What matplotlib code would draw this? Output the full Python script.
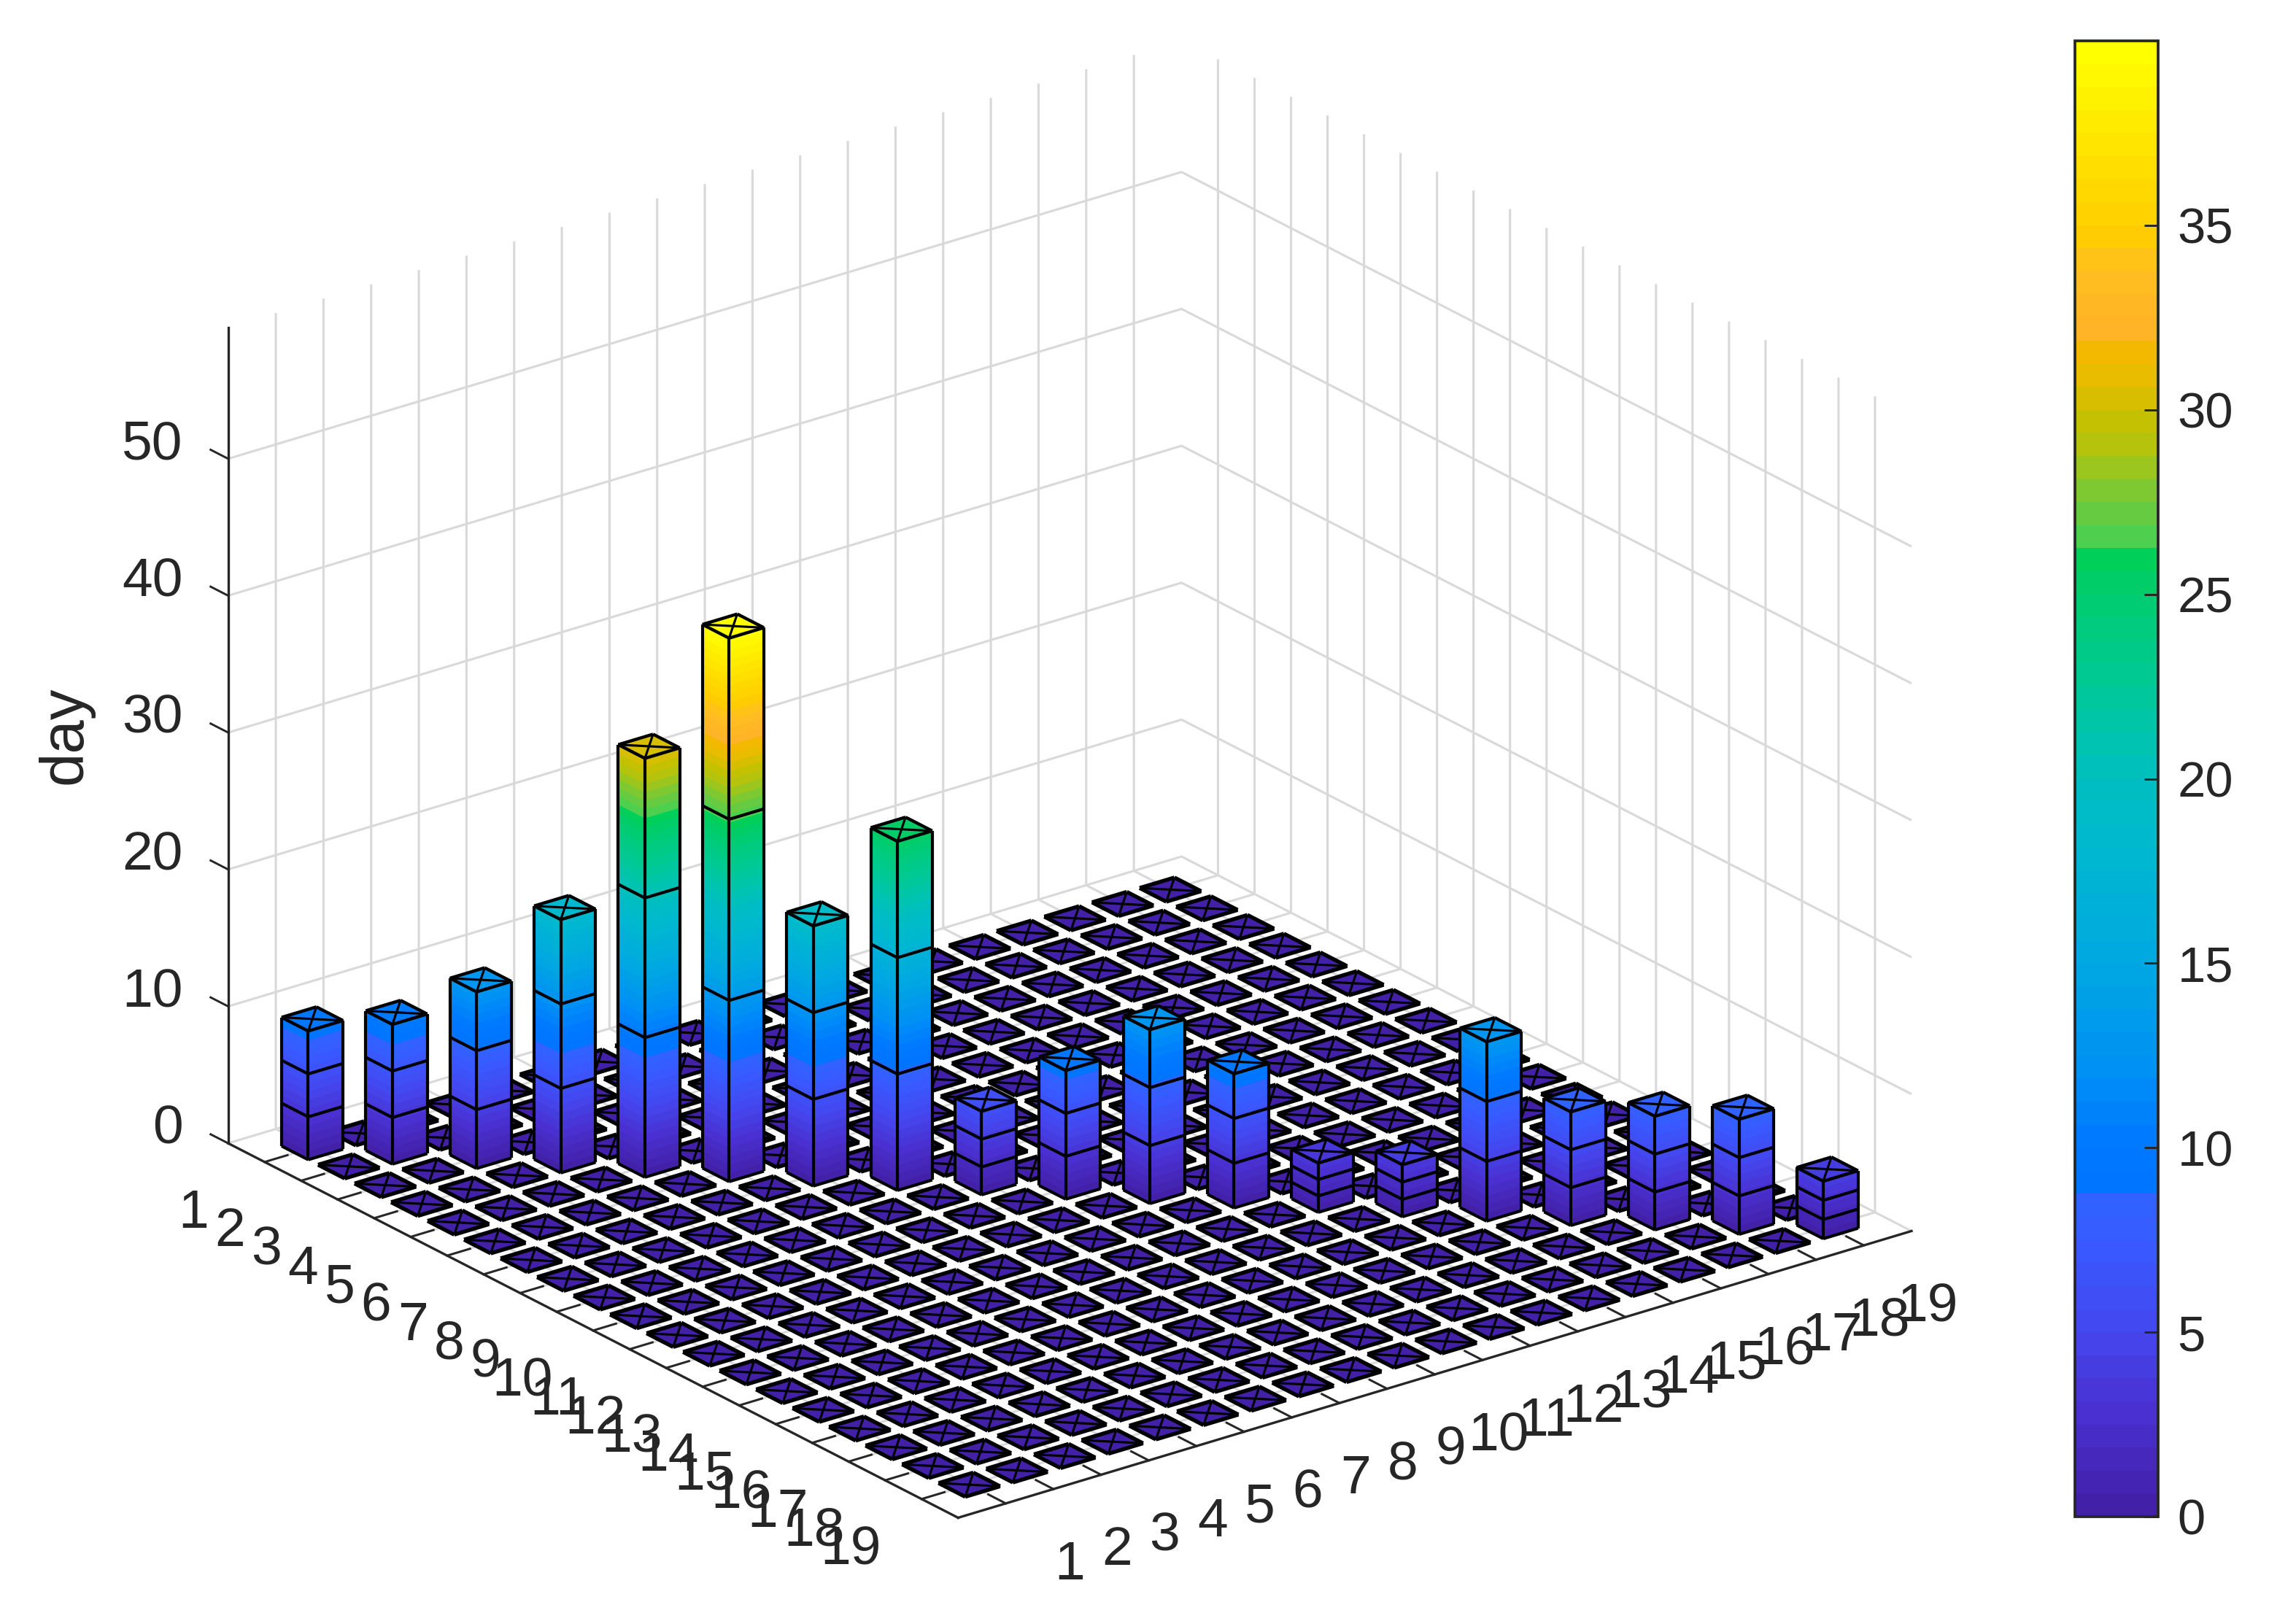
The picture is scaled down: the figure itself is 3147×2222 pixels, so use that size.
import numpy as np
import matplotlib
matplotlib.use("Agg")
import matplotlib.pyplot as plt
from matplotlib.colors import LinearSegmentedColormap, Normalize
from matplotlib.cm import ScalarMappable
from mpl_toolkits.mplot3d import proj3d
from mpl_toolkits.mplot3d.art3d import Poly3DCollection, Line3DCollection

plt.rcParams['font.family'] = ['Liberation Sans', 'DejaVu Sans']
plt.rcParams['grid.color'] = '#d9d9d9'
plt.rcParams['grid.linewidth'] = 0.75

# --- data ---
classes = list(range(1, 20))
diagonal = [9.4, 10.2, 12.9, 18.5, 30.6, 39.7, 19, 25.5, 6.1, 9.4, 12.7, 9.8, 3.6, 3.8, 13.1, 8.3, 8.3, 8.4, 4.2]
z_ticks = [0, 10, 20, 30, 40, 50]
cbar_ticks = [0, 5, 10, 15, 20, 25, 30, 35]
z_top = 59.6
v_max = 40
bar_width = 0.73
n_segments = 3

# colormap anchors (value, colour), with the jumps seen in the colorbar
cmap_values = [0, 2.5, 5, 7, 8.6, 8.7, 10, 12, 15, 18, 20, 22, 25, 26.5, 26.6, 28, 29, 30, 31, 31.9, 32, 34, 35, 37, 40]
cmap_colors = ['#4220a8', '#4a30d0', '#4348f0', '#3a58ff', '#2e64ff', '#0074ff', '#0078ff', '#0090f5',
               '#00a8e0', '#00b8d0', '#00bec0', '#00c8a0', '#00cc70', '#00d050', '#4ccf50', '#80c830',
               '#b0c410', '#c8c000', '#e8bc00', '#f5b800', '#ffb028', '#ffc020', '#ffcc00', '#ffe000', '#ffff00']
cmap = LinearSegmentedColormap.from_list(
    'bars', [(v / v_max, c) for v, c in zip(cmap_values, cmap_colors)], N=64)
norm = Normalize(0, v_max)

counts = np.zeros((19, 19))
np.fill_diagonal(counts, diagonal)


def side_strips(x0, y0, x1, y1, h):
    """One side of a bar cut at the colormap levels, so it shades with height."""
    levels = np.linspace(0, v_max, cmap.N + 1)
    cuts = np.unique(np.r_[levels[levels < h], h])
    polys, colors = [], []
    for lo, hi in zip(cuts[:-1], cuts[1:]):
        polys.append([(x0, y0, lo), (x1, y1, lo), (x1, y1, hi), (x0, y0, hi)])
        colors.append(cmap(norm((lo + hi) / 2)))
    return polys, colors


def draw_bar(ax, xc, yc, h, order):
    w = bar_width / 2
    left = (xc - w, yc - w)
    front = (xc - w, yc + w)
    right = (xc + w, yc + w)
    back = (xc + w, yc - w)

    polys, colors = [], []
    if h > 0:
        for a, b in [(left, front), (front, right)]:
            p, c = side_strips(a[0], a[1], b[0], b[1], h)
            polys += p
            colors += c
    polys.append([(*left, h), (*front, h), (*right, h), (*back, h)])
    colors.append(cmap(norm(h)))
    ax.add_collection3d(Poly3DCollection(polys, facecolors=colors, edgecolors=colors,
                                         linewidths=0.25, zorder=order))

    # outline: top rim and its cross, rings between the segments, corners
    # flat cells get a heavier rim, their segments all lie on top of each other
    rim = 1.05 if h > 0 else 1.3
    lines = [[(*left, h), (*front, h)], [(*front, h), (*right, h)], [(*right, h), (*back, h)],
             [(*back, h), (*left, h)], [(*left, h), (*right, h)], [(*back, h), (*front, h)]]
    widths = [rim, rim, rim, rim, 0.75, 0.75]
    if h > 0:
        for k in range(n_segments):
            z = h * k / n_segments
            lines += [[(*left, z), (*front, z)], [(*front, z), (*right, z)]]
            widths += [1.0, 1.0]
        for c in (left, front, right):
            lines.append([(*c, 0), (*c, h)])
            widths.append(1.0)
    ax.add_collection3d(Line3DCollection(lines, colors='black', linewidths=widths,
                                         zorder=order + 0.5))


def label_at(ax, x, y, z, text, ha='center'):
    """Tick label at a 3D spot, drawn as plain 2D text."""
    px, py, _ = proj3d.proj_transform(x, y, z, ax.get_proj())
    ax.text2D(px, py, text, transform=ax.transData, fontsize=18, color='#262626',
              ha=ha, va='center', clip_on=False)


fig = plt.figure(figsize=(3147 / 300, 2222 / 300), dpi=300)
ax = fig.add_axes([157.2 / 3147, -155.2 / 2222, 2549.4 / 3147, 2549.4 / 2222], projection='3d',
                  proj_type='ortho', computed_zorder=False)
ax.view_init(elev=23.13, azim=-127.44)
ax.set_box_aspect((1, 1, 0.739))

# back to front: the far corner has high x and low y
cells = [(i, j) for i in range(19) for j in range(19)]
cells.sort(key=lambda c: -(c[0] * np.sin(np.radians(37.44)) - c[1] * np.cos(np.radians(37.44))))
for order, (i, j) in enumerate(cells):
    draw_bar(ax, classes[i], classes[j], counts[j, i], 10 + order)

ax.set_xlim(0, 20, view_margin=0)
ax.set_ylim(20, 0, view_margin=0)
ax.set_zlim(0, z_top, view_margin=0)
ax.set_xticks(classes)
ax.set_yticks(classes)
ax.set_zticks(z_ticks)
ax.zaxis.set_ticks_position('lower')
ax.tick_params(axis='both', colors='#262626')

for axis in (ax.xaxis, ax.yaxis, ax.zaxis):
    axis.set_pane_color((1, 1, 1, 1))
    axis.pane.set_edgecolor('white')
    axis.line.set_color('#262626')
    axis.line.set_linewidth(0.8)
    axis._axinfo['tick']['inward_factor'] = 0
    axis._axinfo['tick']['outward_factor'] = 0.3
    axis._axinfo['tick']['linewidth'] = {True: 0.7, False: 0.7}
    for tick in axis.get_major_ticks():
        tick.label1.set_visible(False)

# tick labels placed by hand: the 3D axis would put them too low
for c in classes:
    label_at(ax, c, 21.74, -2.13, str(c))
    label_at(ax, -1.49, c, -2.18, str(c))
for z in z_ticks:
    label_at(ax, 0, -1.24, z - 0.7, str(z), ha='right')

fig.text(90 / 3147, 1 - 1008 / 2222, 'day', rotation=90, fontsize=20, color='#262626',
         ha='center', va='center')

cax = fig.add_axes([2844 / 3147, 1 - 2079 / 2222, 114 / 3147, 2023 / 2222])
cb = fig.colorbar(ScalarMappable(norm=norm, cmap=cmap), cax=cax, ticks=cbar_ticks)
cb.ax.tick_params(direction='in', length=4.5, width=0.7, labelsize=16.5, colors='#262626', pad=6.4)
cb.outline.set_edgecolor('#262626')
cb.outline.set_linewidth(0.9)

fig.savefig('out.png', dpi=300)
